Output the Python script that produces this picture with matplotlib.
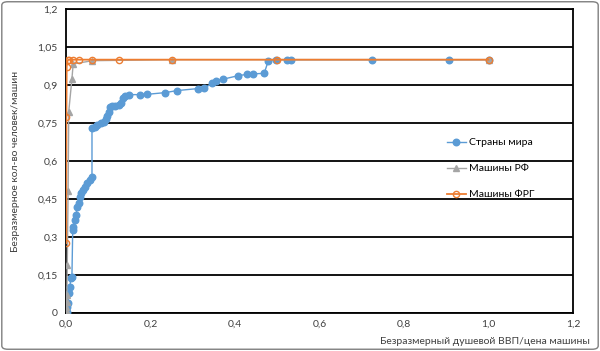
import matplotlib
matplotlib.use("Agg")
import matplotlib.pyplot as plt
from matplotlib.patches import FancyBboxPatch

plt.rcParams['font.family'] = ['Lato', 'DejaVu Sans']

# Страны мира
world_x = [0.0017, 0.0035, 0.0047, 0.0064, 0.0095, 0.011, 0.014, 0.0159, 0.0173, 0.0206,
           0.0237, 0.0267, 0.030, 0.033, 0.036, 0.041, 0.0457, 0.050, 0.057, 0.0615,
           0.0615, 0.068, 0.074, 0.0836, 0.090, 0.0947, 0.098, 0.101, 0.104, 0.109,
           0.117, 0.125, 0.131, 0.136, 0.140, 0.148, 0.175, 0.191, 0.235, 0.263,
           0.313, 0.327, 0.346, 0.355, 0.372, 0.408, 0.428, 0.443, 0.469, 0.479,
           0.498, 0.524, 0.532, 0.725, 0.907, 1.0]
world_y = [0.005, 0.024, 0.038, 0.079, 0.104, 0.138, 0.141, 0.328, 0.341, 0.367,
           0.387, 0.420, 0.434, 0.459, 0.472, 0.486, 0.499, 0.512, 0.525, 0.538,
           0.729, 0.733, 0.742, 0.749, 0.755, 0.765, 0.778, 0.794, 0.814, 0.818,
           0.817, 0.822, 0.828, 0.848, 0.857, 0.862, 0.862, 0.863, 0.870, 0.878,
           0.886, 0.887, 0.907, 0.917, 0.923, 0.937, 0.942, 0.944, 0.946, 0.996,
           1.0, 1.0, 1.0, 1.0, 1.0, 1.0]

# Машины РФ
rf_x = [0.0002, 0.0005, 0.001, 0.0015, 0.002, 0.003, 0.005, 0.0065, 0.014, 0.017, 0.0625, 0.25, 1.0]
rf_y = [0.0, 0.01, 0.025, 0.045, 0.07, 0.19, 0.48, 0.795, 0.924, 0.983, 0.996, 1.0, 1.0]

# Машины ФРГ
frg_x = [0.0005, 0.001, 0.0016, 0.0039, 0.0078, 0.0156, 0.03125, 0.0625, 0.125, 0.25, 0.5, 1.0]
frg_y = [0.276, 0.775, 0.973, 0.998, 1.0, 1.0, 1.0, 1.0, 1.0, 1.0, 1.0, 1.0]

x_ticks = [0.0, 0.2, 0.4, 0.6, 0.8, 1.0, 1.2]
x_labels = ['0,0', '0,2', '0,4', '0,6', '0,8', '1,0', '1,2']
y_ticks = [0, 0.15, 0.3, 0.45, 0.6, 0.75, 0.9, 1.05, 1.2]
y_labels = ['0', '0,15', '0,3', '0,45', '0,6', '0,75', '0,9', '1,05', '1,2']

blue = '#5B9BD5'
gray = '#A5A5A5'
orange = '#ED7D31'

fig = plt.figure(figsize=(6.0, 3.51), dpi=100)
ax = fig.add_axes([66/600, 1-313/351, (573-66)/600, (313-9)/351])

ax.plot(world_x, world_y, color=blue, lw=1.0, marker='o', ms=4.7,
        mfc=blue, mec=blue, label='Страны мира', zorder=3)
ax.plot(rf_x, rf_y, color=gray, lw=1.0, marker='^', ms=4,
        mfc=gray, mec=gray, label='Машины РФ', zorder=4)
ax.plot(frg_x, frg_y, color=orange, lw=1.3, marker='o', ms=4.5,
        mfc='none', mec=orange, mew=1.0, label='Машины ФРГ', zorder=5)

ax.set_xlim(0, 1.2)
ax.set_ylim(0, 1.2)
ax.set_xticks(x_ticks)
ax.set_xticklabels(x_labels)
ax.set_yticks(y_ticks)
ax.set_yticklabels(y_labels)
ax.tick_params(length=0, labelsize=7.5, colors='#404040')
ax.tick_params(axis='x', pad=5)
ax.tick_params(axis='y', pad=6)
ax.grid(axis='y', color='black', lw=1.3)
ax.set_axisbelow(True)
for s in ax.spines.values():
    s.set_color('black')
    s.set_linewidth(1.3)

leg = ax.legend(loc='upper left', bbox_to_anchor=(0.751, 0.575), frameon=False,
                fontsize=7.5, handlelength=1.8, handletextpad=0.35,
                labelspacing=1.6, borderpad=0, borderaxespad=0)

ax.set_ylabel('Безразмерное кол-во человек/машин', fontsize=7.5, color='#404040')
ax.yaxis.set_label_coords(-0.09, 0.5)
fig.text(590/600, 1-341/351, 'Безразмерный душевой ВВП/цена машины',
         ha='right', va='center', fontsize=7.5, color='#404040')

border = FancyBboxPatch((0.003, 0.005), 0.994, 0.99, boxstyle='round,pad=0,rounding_size=0.01',
                        transform=fig.transFigure, fill=False, ec='#7f7f7f', lw=1.0)
fig.patches.append(border)

fig.savefig('out.png', dpi=100)
